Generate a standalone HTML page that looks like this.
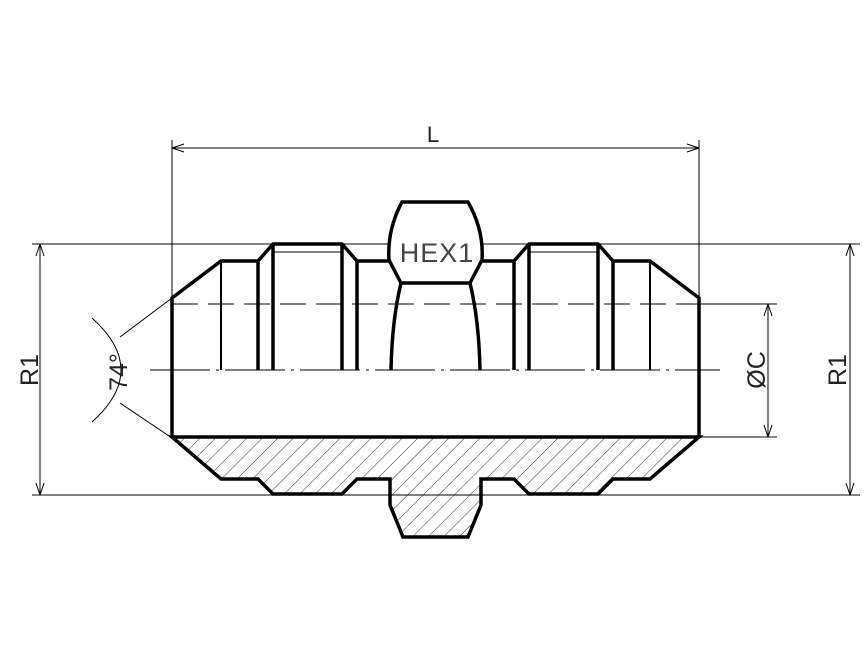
<!DOCTYPE html>
<html><head><style>html,body{margin:0;padding:0;background:#fff}svg{display:block}</style></head>
<body>
<svg width="867" height="650" viewBox="0 0 867 650" xmlns="http://www.w3.org/2000/svg">
<defs>
<pattern id="h" patternUnits="userSpaceOnUse" width="11" height="11" patternTransform="rotate(45)">
<line x1="0" y1="0" x2="0" y2="11" stroke="#000" stroke-width="0.8"/>
</pattern>
</defs>
<rect width="867" height="650" fill="#fff"/>
<path d="M172,437 L699,437 L650,479 L613,479 L598,494 L529,494 L514,479 L481,479 L481,505 L468,537 L403,537 L390,505 L390,479 L357,479 L342,494 L273,494 L258,479 L221,479 Z" fill="url(#h)" stroke="#000" stroke-width="3.5" stroke-linejoin="miter"/>
<g stroke="#000" stroke-width="1" fill="none">
<line x1="172" y1="140" x2="172" y2="298"/>
<line x1="699" y1="140" x2="699" y2="298"/>
<line x1="172" y1="148" x2="699" y2="148"/>
<path d="M172,148 l12,-4 M172,148 l12,4 M699,148 l-12,-4 M699,148 l-12,4"/>
<line x1="32" y1="244" x2="860" y2="244"/>
<line x1="32" y1="495" x2="860" y2="495"/>
<line x1="40" y1="244" x2="40" y2="495"/>
<path d="M40,244 l-4,12 M40,244 l4,12 M40,495 l-4,-12 M40,495 l4,-12"/>
<line x1="850" y1="244" x2="850" y2="495"/>
<path d="M850,244 l-4,12 M850,244 l4,12 M850,495 l-4,-12 M850,495 l4,-12"/>
<line x1="699" y1="304" x2="777" y2="304"/>
<line x1="699" y1="437" x2="777" y2="437"/>
<line x1="768" y1="304" x2="768" y2="437"/>
<path d="M768,304 l-4,12 M768,304 l4,12 M768,437 l-4,-12 M768,437 l4,-12"/>
<line x1="273" y1="252" x2="342" y2="252"/>
<line x1="529" y1="252" x2="598" y2="252"/>
<line x1="273" y1="494" x2="342" y2="494"/>
<line x1="529" y1="494" x2="598" y2="494"/>
<line x1="172" y1="304" x2="700" y2="304" stroke-dasharray="26,10"/>
<line x1="150" y1="370" x2="720" y2="370" stroke-dasharray="60,6,3,6"/>
<line x1="172" y1="298" x2="120" y2="337"/>
<line x1="172" y1="438" x2="120" y2="403"/>
<path d="M92,318 Q150,370 92,422"/>
</g>
<g stroke="#000" stroke-width="3.5" fill="none" stroke-linejoin="miter">
<path d="M172,437 L172,298 L221,261 L258,261 L273,244 L342,244 L357,261 L390,261"/>
<path d="M699,437 L699,298 L650,261 L613,261 L598,244 L529,244 L514,261 L481,261"/>
<path d="M402,202 L468,202 Q484,230 482,260 L470,283 L401,283 L389,260 Q387,230 402,202 Z" fill="#fff"/>
<path d="M401,283 Q392,320 391,370 M470,283 Q479,320 480,370"/>
<path d="M258,261 V370 M273,244 V370 M342,244 V370 M357,261 V370 M613,261 V370 M598,244 V370 M529,244 V370 M514,261 V370"/>
</g>
<g stroke="#000" stroke-width="2" fill="none">
<path d="M221,261 V370 M650,261 V370"/>
</g>
<g font-family="Liberation Sans, sans-serif" fill="#222">
<text x="433" y="142" font-size="22" text-anchor="middle">L</text>
<text x="437" y="262" font-size="27" text-anchor="middle" fill="#444" letter-spacing="1">HEX1</text>
<text transform="translate(38,370) rotate(-90)" font-size="25" text-anchor="middle">R1</text>
<text transform="translate(846,370) rotate(-90)" font-size="25" text-anchor="middle">R1</text>
<text transform="translate(765,370) rotate(-90)" font-size="25" text-anchor="middle">ØC</text>
<text transform="translate(127,372) rotate(-90)" font-size="25" text-anchor="middle">74°</text>
</g>
</svg>
</body></html>
